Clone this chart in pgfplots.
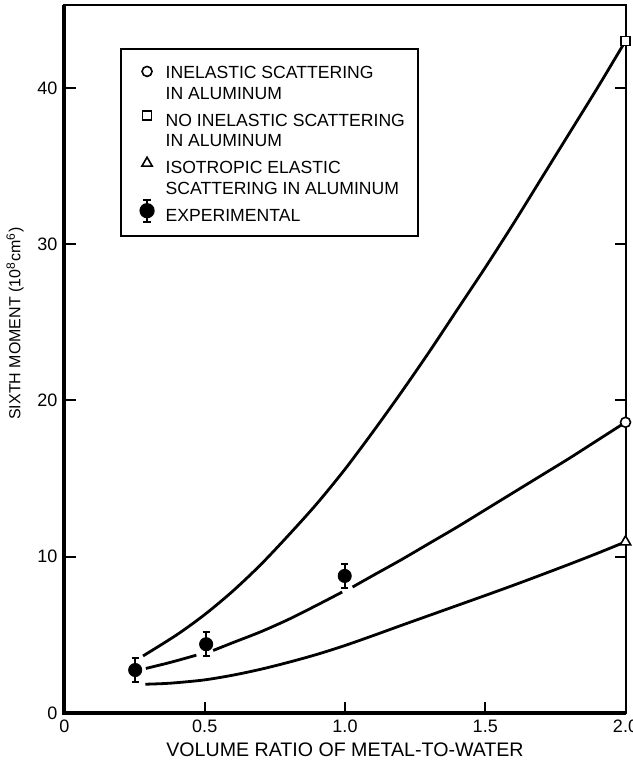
\documentclass[border=0pt]{standalone}
\usepackage{pgfplots}
\pgfplotsset{compat=1.18}
\usepackage{fontspec}
\setmainfont{Liberation Sans}
\newcommand{\sA}{\rule[-2pt]{0pt}{10.75pt}}
\newcommand{\sB}{\rule[-2pt]{0pt}{14pt}}
\begin{document}
\begin{tikzpicture}
\path[use as bounding box] (-32.25pt,-28.5pt) rectangle (283.75pt,356.5pt);
\begin{axis}[
  at={(0,0)}, anchor=south west,
  scale only axis, width=280.5pt, height=354pt,
  xmin=0, xmax=2, ymin=0, ymax=45.3,
  clip=false,
  axis line style={line width=1pt},
  xtick={0,0.5,1,1.5,2}, xticklabels={0,0.5,1.0,1.5,2.0},
  ytick={0,10,20,30,40},
  xtick pos=left, ytick pos=both, yticklabel pos=left,
  tick align=inside, major tick length=5.5pt,
  tick style={line width=1pt, black},
  /pgf/number format/assume math mode=true,
  ticklabel style={font=\fontsize{9}{10}\selectfont},
  xlabel={VOLUME RATIO OF METAL-TO-WATER},
  ylabel={SIXTH MOMENT (10\textsuperscript{8}cm\textsuperscript{6})},
  xlabel style={at={(axis description cs:0.5,-0.052)}, anchor=center, font=\fontsize{9.8}{11}\selectfont},
  ylabel style={at={(axis description cs:-0.088,0.55)}, anchor=center, font=\fontsize{8}{10}\selectfont},
  legend style={at={(axis description cs:0.0989,0.939)}, anchor=north west,
    draw=black, line width=1pt, font=\fontsize{8.8}{10}\selectfont,
    inner xsep=4.5pt, inner ysep=6pt, row sep=0pt, column sep=3.5pt,
    nodes={inner ysep=0pt}},
  legend cell align=left,
]
\addlegendimage{only marks, mark=o, mark size=2.5pt, mark options={line width=0.8pt}}
\addlegendentry{\sA INELASTIC SCATTERING}
\addlegendimage{empty legend}
\addlegendentry{\sA IN ALUMINUM}
\addlegendimage{only marks, mark=square, mark size=2.3pt, mark options={line width=0.8pt}}
\addlegendentry{\sB NO INELASTIC SCATTERING}
\addlegendimage{empty legend}
\addlegendentry{\sA IN ALUMINUM}
\addlegendimage{only marks, mark=triangle, mark size=3pt, mark options={line width=0.8pt}}
\addlegendentry{\sB ISOTROPIC ELASTIC}
\addlegendimage{empty legend}
\addlegendentry{\sA SCATTERING IN ALUMINUM}
\addlegendimage{legend image code/.code={
  \draw[line width=1pt] (0.3cm,-5.5pt) -- (0.3cm,5.5pt);
  \draw[line width=1pt] (0.3cm-1.8pt,-5.5pt) -- (0.3cm+1.8pt,-5.5pt);
  \draw[line width=1pt] (0.3cm-1.8pt,5.5pt) -- (0.3cm+1.8pt,5.5pt);
  \fill (0.3cm,0pt) circle (3.3pt);}}
\addlegendentry{\sB EXPERIMENTAL}

% No inelastic scattering (square)
\addplot[black, line width=1.4pt, smooth, no marks, forget plot] coordinates {
 (0.28,3.65) (0.4,5.0) (0.5,6.3) (0.6,7.8) (0.7,9.5) (0.8,11.4) (0.9,13.4)
 (1.0,15.6) (1.1,18.0) (1.2,20.5) (1.3,23.1) (1.4,25.8) (1.5,28.5) (1.6,31.3)
 (1.7,34.2) (1.8,37.1) (1.9,40.0) (2.0,43.0)};
% Inelastic scattering (circle), broken at experimental points
\addplot[black, line width=1.4pt, smooth, no marks, forget plot] coordinates {
 (0.29,2.85) (0.38,3.25) (0.47,3.7)};
\addplot[black, line width=1.4pt, smooth, no marks, forget plot] coordinates {
 (0.53,4.0) (0.6,4.5) (0.7,5.2) (0.8,6.0) (0.9,6.9) (0.99,7.74)};
\addplot[black, line width=1.4pt, smooth, no marks, forget plot] coordinates {
 (1.027,8.06) (1.1,8.8) (1.2,9.8) (1.3,10.85) (1.4,11.9) (1.5,13.0) (1.6,14.1)
 (1.7,15.2) (1.8,16.3) (1.9,17.45) (2.0,18.6)};
% Isotropic elastic scattering (triangle)
\addplot[black, line width=1.4pt, smooth, no marks, forget plot] coordinates {
 (0.288,1.84) (0.35,1.88) (0.4,1.94) (0.5,2.12) (0.6,2.42) (0.7,2.8) (0.8,3.25)
 (0.9,3.75) (1.0,4.32) (1.1,4.95) (1.2,5.6) (1.3,6.24) (1.4,6.88) (1.5,7.52)
 (1.6,8.17) (1.7,8.84) (1.8,9.52) (1.9,10.22) (2.0,10.95)};

% end markers
\addplot[only marks, mark=square*, mark size=2.3pt, mark options={fill=white, draw=black, line width=0.8pt}, forget plot] coordinates {(2.0,43.0)};
\addplot[only marks, mark=*, mark size=2.5pt, mark options={fill=white, draw=black, line width=0.8pt}, forget plot] coordinates {(2.0,18.6)};
\addplot[only marks, mark=triangle*, mark size=3pt, mark options={fill=white, draw=black, line width=0.8pt}, forget plot] coordinates {(2.0,10.95)};

% experimental
\addplot[only marks, mark=*, mark size=3.3pt, black, forget plot,
  error bars/.cd, y dir=both, y explicit,
  error bar style={line width=1pt},
  error mark options={rotate=90, mark size=1.8pt, line width=1pt}]
  coordinates {(0.252,2.75) +- (0,0.77) (0.505,4.40) +- (0,0.77) (0.999,8.77) +- (0,0.75)};

\draw[line width=2pt] (rel axis cs:0,1) -- (rel axis cs:0,0) -- (rel axis cs:1,0);
\end{axis}
\end{tikzpicture}
\end{document}
